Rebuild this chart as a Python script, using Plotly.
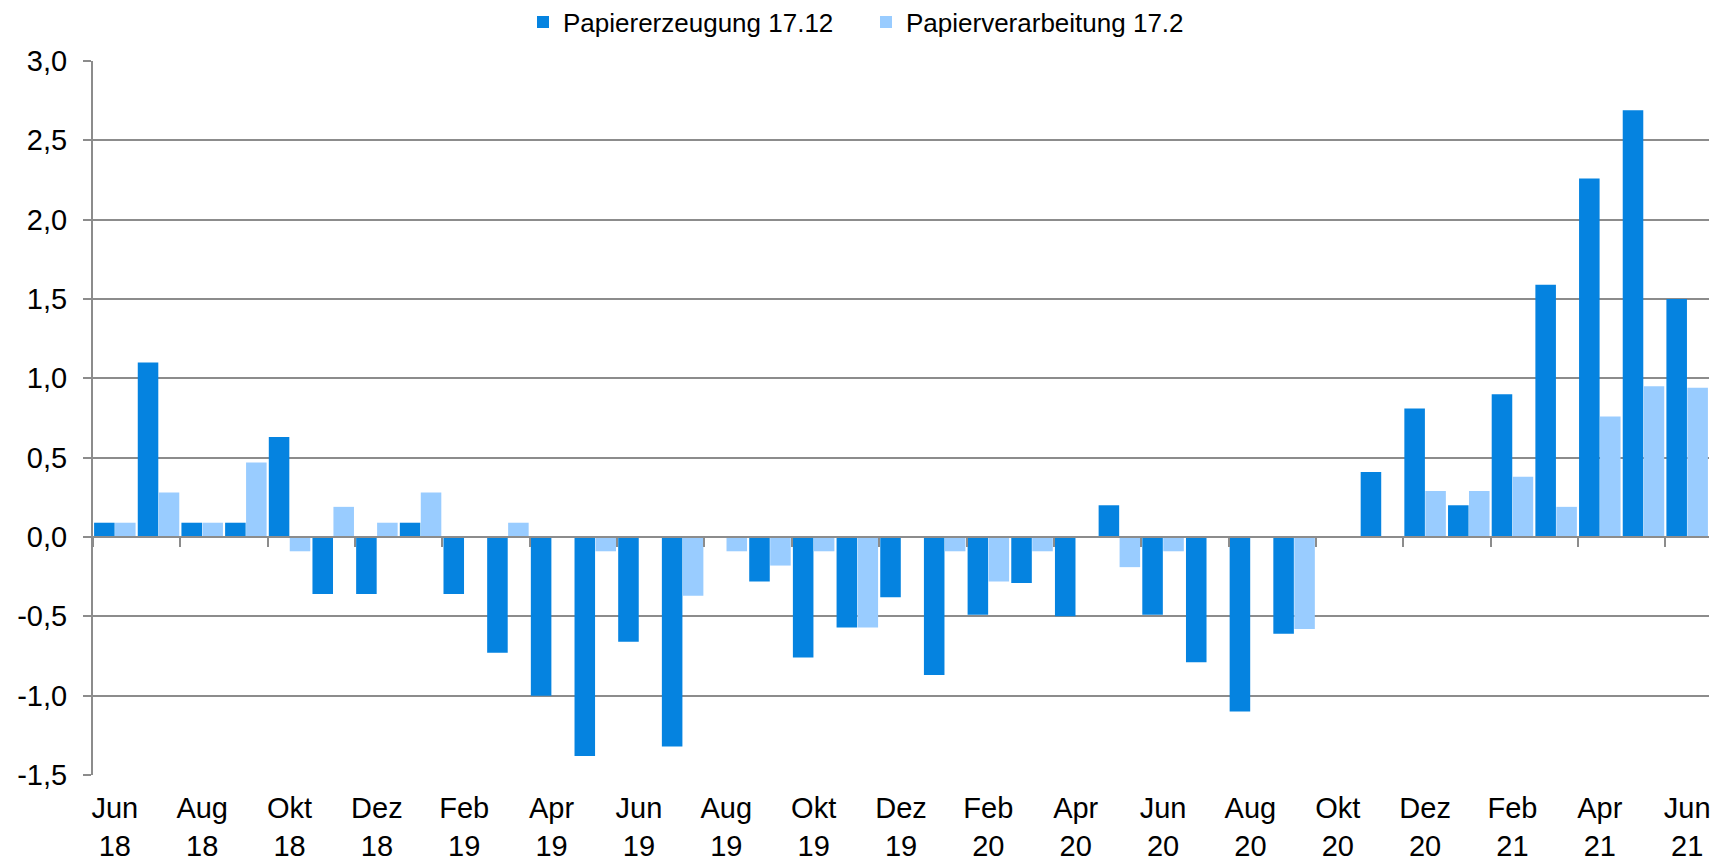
import plotly.graph_objects as go

months = ["Jun 18", "Jul 18", "Aug 18", "Sep 18", "Okt 18", "Nov 18", "Dez 18",
          "Jan 19", "Feb 19", "Mrz 19", "Apr 19", "Mai 19", "Jun 19", "Jul 19",
          "Aug 19", "Sep 19", "Okt 19", "Nov 19", "Dez 19", "Jan 20", "Feb 20",
          "Mrz 20", "Apr 20", "Mai 20", "Jun 20", "Jul 20", "Aug 20", "Sep 20",
          "Okt 20", "Nov 20", "Dez 20", "Jan 21", "Feb 21", "Mrz 21", "Apr 21",
          "Mai 21", "Jun 21"]

erzeugung = [0.09, 1.1, 0.09, 0.09, 0.63, -0.36, -0.36, 0.09, -0.36, -0.73,
             -1.0, -1.38, -0.66, -1.32, 0.0, -0.28, -0.76, -0.57, -0.38, -0.87,
             -0.49, -0.29, -0.5, 0.2, -0.49, -0.79, -1.1, -0.61, 0.0, 0.41,
             0.81, 0.2, 0.9, 1.59, 2.26, 2.69, 1.5]

verarbeitung = [0.09, 0.28, 0.09, 0.47, -0.09, 0.19, 0.09, 0.28, 0.0, 0.09,
                0.0, -0.09, 0.0, -0.37, -0.09, -0.18, -0.09, -0.57, 0.0, -0.09,
                -0.28, -0.09, 0.0, -0.19, -0.09, 0.0, 0.0, -0.58, 0.0, 0.0,
                0.29, 0.29, 0.38, 0.19, 0.76, 0.95, 0.94]

y_ticks = [-1.5, -1.0, -0.5, 0.0, 0.5, 1.0, 1.5, 2.0, 2.5, 3.0]
label_every = 2
series_names = ["Papiererzeugung 17.12", "Papierverarbeitung 17.2"]

x_idx = list(range(len(months)))
tick_pos = x_idx[::label_every]
tick_text = [months[i].replace(" ", "<br>") for i in tick_pos]
boundary_ticks = [i - 0.5 for i in tick_pos]
y_tick_text = [f"{v:.1f}".replace(".", ",") for v in y_ticks]

DARK = "#0583E0"
LIGHT = "#99CCFF"
GRID = "#8c8c8c"
FONT = "Liberation Sans, Arial, sans-serif"

fig = go.Figure()
fig.add_trace(go.Bar(x=x_idx, y=erzeugung, name=series_names[0],
                     marker=dict(color=DARK, line=dict(width=0))))
fig.add_trace(go.Bar(x=x_idx, y=verarbeitung, name=series_names[1],
                     marker=dict(color=LIGHT, line=dict(width=0))))
# helper trace so the zero-crossing category axis is drawn
fig.add_trace(go.Scatter(x=x_idx, y=[None] * len(x_idx), xaxis="x2",
                         showlegend=False, hoverinfo="skip", mode="lines"))

ymin, ymax = y_ticks[0], y_ticks[-1]
xr = [-0.5, len(months) - 0.5]

W, H = 1718, 857  # page body has an 8px margin

fig.update_layout(
    width=W, height=H,
    margin=dict(l=85, r=17, t=53, b=90, autoexpand=False),
    paper_bgcolor="white", plot_bgcolor="white",
    font=dict(family=FONT, size=28, color="black"),
    barmode="group", bargap=0.04, bargroupgap=0.02,
    legend=dict(orientation="h", x=(866 - 8) / W, xanchor="center",
                xref="container", y=1 - 14 / H, yanchor="middle",
                yref="container", font=dict(size=26), itemwidth=30,
                entrywidth=298, entrywidthmode="pixels", traceorder="normal"),
    xaxis=dict(range=xr, tickmode="array", tickvals=tick_pos, ticktext=tick_text,
               ticks="", showgrid=False, zeroline=False, showline=False,
               automargin=False, ticklabelstandoff=13,
               tickfont=dict(size=29)),
    xaxis2=dict(range=xr, overlaying="x", anchor="free",
                position=(0 - ymin) / (ymax - ymin), side="bottom",
                tickmode="array", tickvals=boundary_ticks, ticks="outside",
                ticklen=9, tickwidth=2, tickcolor=GRID, showticklabels=False,
                showline=True, linecolor=GRID, linewidth=2, showgrid=False,
                zeroline=False, automargin=False),
    yaxis=dict(range=[ymin, ymax], tickmode="array", tickvals=y_ticks,
               ticktext=y_tick_text, automargin=False,
               showgrid=True, gridcolor=GRID, gridwidth=1.5, zeroline=False,
               showline=True, linecolor=GRID, linewidth=2, ticks="outside",
               ticklen=8, tickwidth=2, tickcolor=GRID, ticklabelstandoff=10,
               tickfont=dict(size=29)),
)

fig.write_html("out.html")
